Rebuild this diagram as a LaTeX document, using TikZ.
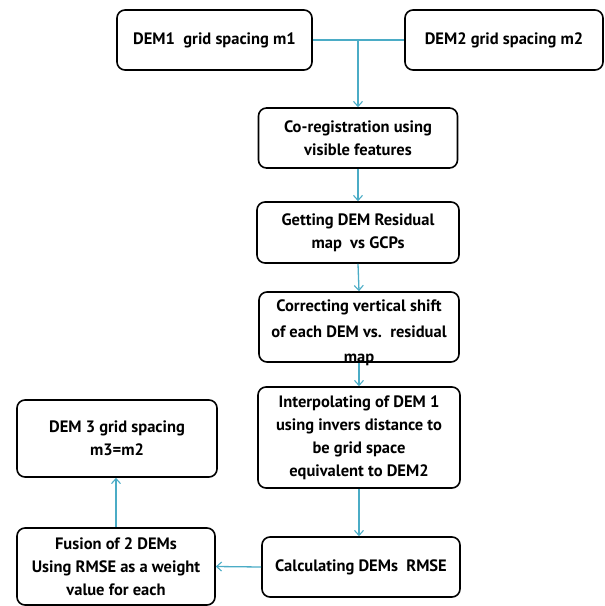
\documentclass[tikz,border=0pt]{standalone}
\usepackage{fontspec}
\setmainfont{PT Sans}
\usetikzlibrary{arrows.meta}
\definecolor{arrowteal}{HTML}{4BACC6}
\tikzset{
  box/.style={draw=black, line width=1.6pt, rounded corners=8pt, fill=white,
    align=center, inner sep=2pt, font=\bfseries\fontsize{16.5}{23}\selectfont},
  plaintext/.style={align=center, inner sep=0pt, font=\bfseries\fontsize{16.5}{25.5}\selectfont},
  conn/.style={draw=arrowteal, line width=1.3pt},
  arr/.style={conn, -{Straight Barb[length=5pt,width=9pt,line width=1.1pt]}},
}
\begin{document}
\begin{tikzpicture}[x=1pt,y=-1pt]
\useasboundingbox (0,0) rectangle (605,606);
\node[box, minimum width=195pt, minimum height=60pt] (dem1) at (214.5,40) {DEM1\ \ grid spacing m1};
\node[box, minimum width=198pt, minimum height=60pt] (dem2) at (504,40) {DEM2 grid spacing m2};
\node[box, minimum width=199pt, minimum height=60pt] (coreg) at (358,138) {Co-registration using\\visible features};
\node[box, minimum width=202pt, minimum height=61pt] (resid) at (358,232.5) {Getting DEM Residual\\map\ \ vs GCPs};
\node[box, minimum width=200pt, minimum height=70pt] (corr) at (359,327) {};
\node[plaintext] (corrtext) at (359,333) {Correcting vertical shift\\of each DEM vs.\ \ residual\\map};
\node[box, minimum width=202pt, minimum height=101pt] (interp) at (359,437.5) {Interpolating of DEM 1\\using invers distance to\\be grid space\\equivalent to DEM2};
\node[box, minimum width=198pt, minimum height=60pt] (calc) at (361,567) {Calculating DEMs\ \ RMSE};
\node[box, minimum width=200pt, minimum height=77pt] (dem3) at (117,438.5) {DEM 3 grid spacing\\m3=m2};
\node[box, minimum width=198pt, minimum height=77pt] (fusion) at (116,566.5) {Fusion of 2 DEMs\\Using RMSE as a weight\\value for each};
\coordinate (junc) at (358,40);
\draw[conn] (dem1.east) -- (dem2.west);
\draw[arr] (junc) -- (coreg.north);
\draw[arr] (coreg.south) -- (resid.north);
\draw[arr] (resid.south) -- (corr.north);
\draw[arr] (corr.south) -- (interp.north);
\draw[arr] (interp.south) -- (interp.south |- calc.north);
\draw[arr] (calc.west) -- (fusion.east);
\draw[arr] (fusion.north) -- (fusion.north |- dem3.south);
\end{tikzpicture}
\end{document}
